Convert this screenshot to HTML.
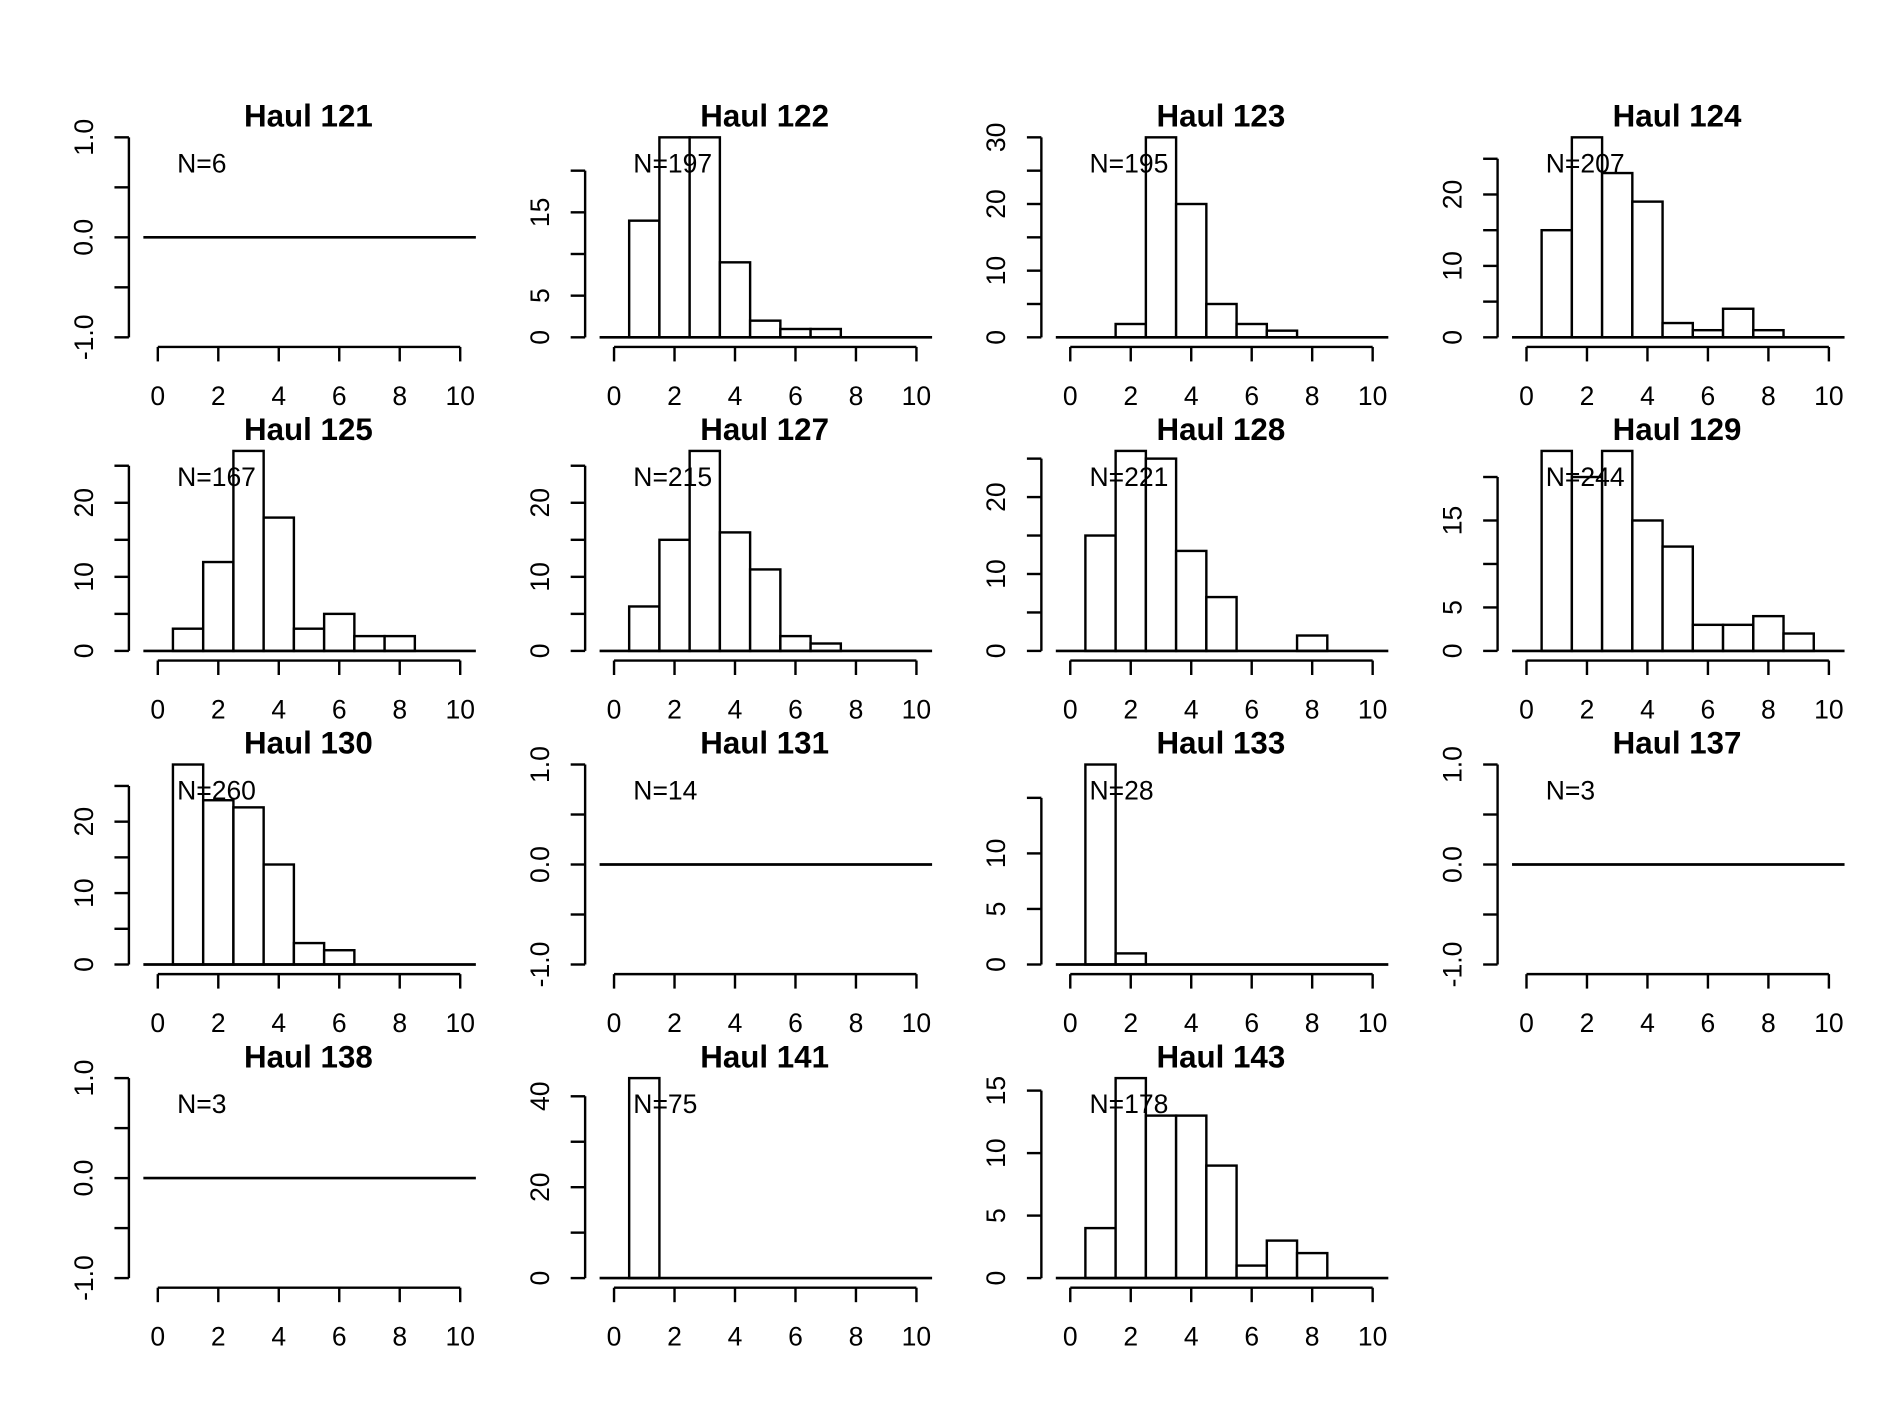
<!DOCTYPE html>
<html><head><meta charset="utf-8"><style>
html,body{margin:0;padding:0;background:#fff;}
svg{display:block;}
text{font-family:"Liberation Sans",Arial,sans-serif;fill:#000;}
</style></head>
<body>
<svg id="chart" width="1889" height="1417" viewBox="0 0 1568 1176.2" xmlns="http://www.w3.org/2000/svg"></svg>
<script>
const titles = ["Haul 121","Haul 122","Haul 123","Haul 124","Haul 125","Haul 127","Haul 128","Haul 129","Haul 130","Haul 131","Haul 133","Haul 137","Haul 138","Haul 141","Haul 143"];
const nLabels = ["N=6","N=197","N=195","N=207","N=167","N=215","N=221","N=244","N=260","N=14","N=28","N=3","N=3","N=75","N=178"];
const counts = [
  [],
  [14,24,24,9,2,1,1],
  [0,2,30,20,5,2,1],
  [15,28,23,19,2,1,4,1],
  [3,12,27,18,3,5,2,2],
  [6,15,27,16,11,2,1],
  [15,26,25,13,7,0,0,2],
  [23,20,23,15,12,3,3,4,2],
  [28,23,22,14,3,2],
  [],
  [18,1],
  [],
  [],
  [44],
  [4,16,13,13,9,1,3,2]
];
const yTicks = [
  [-1,-0.5,0,0.5,1],[0,5,10,15,20],[0,5,10,15,20,25,30],[0,5,10,15,20,25],
  [0,5,10,15,20,25],[0,5,10,15,20,25],[0,5,10,15,20,25],[0,5,10,15,20],
  [0,5,10,15,20,25],[-1,-0.5,0,0.5,1],[0,5,10,15],[-1,-0.5,0,0.5,1],
  [-1,-0.5,0,0.5,1],[0,10,20,30,40],[0,5,10,15]
];
const yLabels = [
  ["-1.0","","0.0","","1.0"],["0","5","","15",""],["0","","10","","20","","30"],["0","","10","","20",""],
  ["0","","10","","20",""],["0","","10","","20",""],["0","","10","","20",""],["0","5","","15",""],
  ["0","","10","","20",""],["-1.0","","0.0","","1.0"],["0","5","10",""],["-1.0","","0.0","","1.0"],
  ["-1.0","","0.0","","1.0"],["0","","20","","40"],["0","5","10","15"]
];
const xTicks = [0,2,4,6,8,10];
const binStart = 0.5;

const svg = document.getElementById('chart');
const NS = "http://www.w3.org/2000/svg";
function mk(tag, attrs, parent){const e=document.createElementNS(NS,tag);for(const k in attrs)e.setAttribute(k,attrs[k]);parent.appendChild(e);return e;}

titles.forEach((t,i)=>{
  const col=i%4,row=Math.floor(i/4);
  const x0=131+378.7*col, xs=25.1;
  const X=v=>x0+v*xs;
  const empty=counts[i].length===0;
  let Y;
  const zero=280+260.3*row;
  if(empty){Y=v=>zero-83 - v*83;}
  else{const mx=Math.max(...counts[i]);Y=v=>zero - v*166/mx;}
  const g=mk('g',{},svg);
  
  
  const tt=mk('text',{x:x0+125,y:105+260.3*row,'text-anchor':'middle','font-size':26,'font-weight':'bold'},g);
  tt.textContent=t;
  
  
  // bars
  counts[i].forEach((c,j)=>{
    if(c<=0)return;
    const r=mk('rect',{x:X(binStart+j),y:Y(c),width:xs,height:Y(0)-Y(c),fill:'#fff',stroke:'#000','stroke-width':2},g);
    
    
  });
  // baseline
  const bl=mk('line',{x1:x0-12,x2:x0+264,y1:Y(0),y2:Y(0),stroke:'#000','stroke-width':2.2},g);
  
  
  // y axis
  const yt=yTicks[i], ax=x0-24;
  const ya=mk('line',{x1:ax,x2:ax,y1:Y(yt[0]),y2:Y(yt[yt.length-1]),stroke:'#000','stroke-width':2},g);
  
  
  yt.forEach((v,k)=>{
    mk('line',{x1:ax-12,x2:ax,y1:Y(v),y2:Y(v),stroke:'#000','stroke-width':2},g);
    if(yLabels[i][k]){
      const lx=x0-62,ly=Y(v);
      const tx=mk('text',{x:lx,y:ly,'text-anchor':'middle','font-size':22,transform:`rotate(-90 ${lx} ${ly})`,dy:8},g);
      tx.textContent=yLabels[i][k];
      
      
    }
  });
  // x axis
  const ay=zero+8;
  const xa=mk('line',{x1:X(0),x2:X(10),y1:ay,y2:ay,stroke:'#000','stroke-width':2},g);
  
  
  xTicks.forEach(v=>{
    mk('line',{x1:X(v),x2:X(v),y1:ay,y2:ay+12,stroke:'#000','stroke-width':2},g);
    const tx=mk('text',{x:X(v),y:zero+56,'text-anchor':'middle','font-size':22},g);
    tx.textContent=v;
    
    
  });
  const nl=mk('text',{x:x0+16,y:zero-137,'font-size':22},g);
  nl.textContent=nLabels[i];
  
  
});
</script>
</body></html>
